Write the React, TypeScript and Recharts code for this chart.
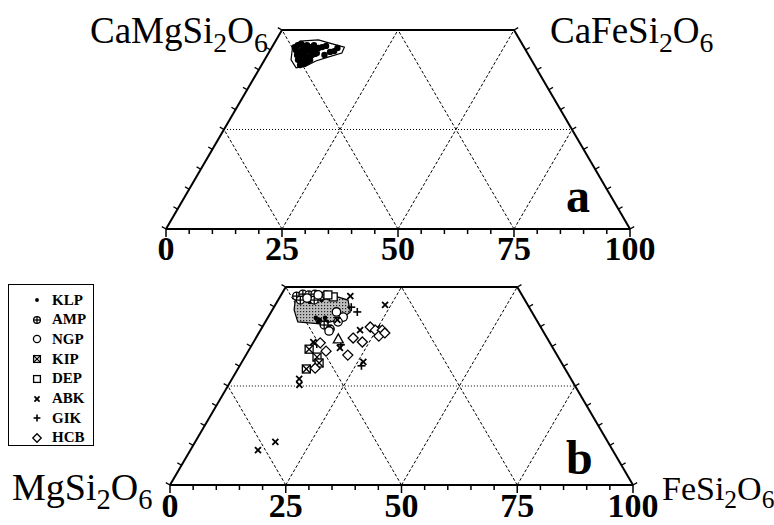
import React from 'react';
import { ScatterChart, Scatter, XAxis, YAxis, ReferenceLine, Legend } from 'recharts';

// compositions as [Wo, Fs] mol%, En is the rest
const fieldA = [[45.5, 4.5], [47.2, 5.3], [47.5, 9.1], [46.5, 12.6], [45.7, 15.6], [44.2, 15.8], [43.2, 13.3], [42.2, 11.2], [41.0, 9.7], [40.5, 7.8], [42.5, 5.7]];
const dotsA = [
  [45.7, 4.9], [46.2, 5.3], [46.5, 5.9], [46.0, 6.7], [46.2, 7.3], [45.7, 8.2], [45.0, 5.5], [44.5, 6.4], [45.0, 6.8],
  [44.7, 7.6], [45.0, 8.1], [44.5, 9.0], [45.0, 9.4], [43.7, 6.4], [43.2, 7.3], [43.7, 7.7], [43.5, 8.4], [43.2, 9.2],
  [43.7, 9.6], [44.0, 10.1], [42.5, 7.2], [42.0, 8.1], [42.5, 8.5], [42.0, 9.4], [42.5, 9.8], [41.2, 8.3], [41.5, 9.0],
  [45.5, 10.1], [44.2, 10.4], [45.7, 10.8], [46.0, 11.5], [44.5, 13.1], [44.7, 13.9], [45.5, 14.2], [43.7, 12.3], [46.2, 8.8],
];

const fieldB = [[46.7, 3.7], [47.7, 6.9], [47.7, 11.8], [46.7, 15.1], [43.7, 17.1], [41.7, 15.9], [40.7, 12.1], [41.2, 7.0], [44.2, 4.7]];
const KLP = [[48.0, 4.1], [47.5, 5.4], [47.7, 6.8], [47.2, 8.4], [46.7, 9.4], [46.2, 7.1], [42.2, 10.4], [41.7, 11.5], [42.2, 12.4], [40.4, 12.6], [41.2, 11.4], [41.2, 13.3]];
const AMP = [[47.7, 3.5], [48.2, 4.6], [48.0, 6.0], [48.2, 7.2], [47.7, 8.7], [48.0, 9.7], [46.7, 4.8], [46.7, 7.8], [40.4, 13.1], [39.4, 14.9]];
const NGP = [[47.2, 6.0], [48.0, 8.0], [42.4, 16.2], [41.2, 15.7], [38.9, 14.9], [43.7, 14.1]];
const KIP = [[34.3, 12.9], [32.3, 15.6], [30.8, 16.8], [29.3, 14.8]];
const DEP = [[47.5, 11.5], [48.0, 10.1]];
const ABK = [[47.7, 15.1], [45.5, 23.7], [41.7, 15.3], [39.1, 21.5], [39.6, 24.9], [36.1, 12.9], [34.6, 19.4], [31.1, 26.2], [26.8, 14.5], [25.3, 15.3], [8.8, 14.6], [10.9, 17.3]];
const GIK = [[44.9, 16.7], [43.7, 18.6], [35.4, 19.2], [35.6, 13.9], [30.1, 26.3]];
const HCB = [[35.9, 14.5], [33.8, 16.8], [32.8, 22.0], [37.1, 21.0], [36.1, 23.5], [39.9, 23.3], [39.1, 24.8], [39.1, 26.3], [37.6, 26.3], [38.4, 27.2], [29.5, 16.6]];
const TRI = [[36.9, 17.9]];

const groups = ['KLP', 'AMP', 'NGP', 'KIP', 'DEP', 'ABK', 'GIK', 'HCB'];
const groupData: Record<string, number[][]> = { KLP, AMP, NGP, KIP, DEP, ABK, GIK, HCB };

const bottomTicks = [0, 5, 10, 15, 20, 25, 30, 35, 40, 45, 50, 55, 60, 65, 70, 75, 80, 85, 90, 95, 100];
const gridLevels = [25, 50, 75];
const edgeTickWo = [0, 5, 10, 15, 20, 25, 30, 35, 40, 45, 50];

const FONT = '"Liberation Serif", "Times New Roman", serif';

const tern = (wo: number, fs: number) => ({ x: fs + wo / 2, y: wo });
const toPts = (arr: number[][]) => arr.map(([wo, fs]) => tern(wo, fs));

function Mark({ kind, cx, cy, k = 1 }: any) {
  const sw = 1.3;
  if (kind === 'KLP') return <circle cx={cx} cy={cy} r={2.3 * k} fill="#000" />;
  if (kind === 'AMP') {
    const r = 4 * k;
    return (
      <g stroke="#000" strokeWidth={sw}>
        <circle cx={cx} cy={cy} r={r} fill="#fff" />
        <line x1={cx - r} x2={cx + r} y1={cy} y2={cy} />
        <line x1={cx} x2={cx} y1={cy - r} y2={cy + r} />
      </g>
    );
  }
  if (kind === 'NGP') return <circle cx={cx} cy={cy} r={4.2 * k} fill="#fff" stroke="#000" strokeWidth={sw} />;
  if (kind === 'KIP' || kind === 'DEP') {
    const h = 4 * k;
    return (
      <g stroke="#000" strokeWidth={sw}>
        <rect x={cx - h} y={cy - h} width={2 * h} height={2 * h} fill="#fff" />
        {kind === 'KIP' && <line x1={cx - h} y1={cy - h} x2={cx + h} y2={cy + h} />}
        {kind === 'KIP' && <line x1={cx - h} y1={cy + h} x2={cx + h} y2={cy - h} />}
      </g>
    );
  }
  if (kind === 'ABK') {
    const h = 3 * k;
    return (
      <g stroke="#000" strokeWidth={1.8}>
        <line x1={cx - h} y1={cy - h} x2={cx + h} y2={cy + h} />
        <line x1={cx - h} y1={cy + h} x2={cx + h} y2={cy - h} />
      </g>
    );
  }
  if (kind === 'GIK') {
    const h = 4 * k;
    return (
      <g stroke="#000" strokeWidth={1.6}>
        <line x1={cx - h} y1={cy} x2={cx + h} y2={cy} />
        <line x1={cx} y1={cy - h} x2={cx} y2={cy + h} />
      </g>
    );
  }
  if (kind === 'HCB') {
    const h = 5 * k;
    return <path d={`M${cx},${cy - h}L${cx + h},${cy}L${cx},${cy + h}L${cx - h},${cy}Z`} fill="#fff" stroke="#000" strokeWidth={sw} />;
  }
  // triangle
  const h = 5 * k;
  return <path d={`M${cx},${cy - h}L${cx + h},${cy + h * 0.8}L${cx - h},${cy + h * 0.8}Z`} fill="#fff" stroke="#000" strokeWidth={sw} />;
}

const makeTick = (labelDy: number) => (props: any) => {
  const { x, y, payload } = props;
  const major = payload.value % 25 === 0;
  return (
    <g>
      <line x1={x} x2={x} y1={y} y2={y + (major ? 8 : 5)} stroke="#000" strokeWidth={1.5} />
      {major && (
        <text x={x} y={y + labelDy} textAnchor="middle" fontFamily={FONT} fontSize={34} fontWeight="bold" fill="#000">
          {payload.value}
        </text>
      )}
    </g>
  );
};

const polygonLine = (fill: string) => (p: any) => {
  const pts = p.points || [];
  const d = pts.map((q: any, i: number) => `${i ? 'L' : 'M'}${q.x},${q.y}`).join('') + 'Z';
  return (
    <g>
      <defs>
        <pattern id="stip" width="3" height="3" patternUnits="userSpaceOnUse">
          <rect width="3" height="3" fill="#bdbdbd" />
          <rect width="1.2" height="1.2" fill="#222" />
        </pattern>
      </defs>
      <path d={d} fill={fill} stroke="#000" strokeWidth={1.2} />
    </g>
  );
};

function Frame() {
  const lines: any[] = [];
  // outline
  lines.push(<ReferenceLine key="top" segment={[tern(50, 0), tern(50, 50)]} stroke="#000" strokeWidth={2} ifOverflow="visible" />);
  lines.push(<ReferenceLine key="left" segment={[tern(0, 0), tern(50, 0)]} stroke="#000" strokeWidth={2} ifOverflow="visible" />);
  lines.push(<ReferenceLine key="right" segment={[tern(0, 100), tern(50, 50)]} stroke="#000" strokeWidth={2} ifOverflow="visible" />);
  // grid
  gridLevels.forEach((L) => {
    const top = Math.min(50, 100 - L);
    lines.push(<ReferenceLine key={'fs' + L} segment={[tern(0, L), tern(top, L)]} stroke="#000" strokeWidth={1} strokeDasharray="3 2" ifOverflow="visible" />);
    lines.push(<ReferenceLine key={'en' + L} segment={[tern(0, 100 - L), tern(top, 100 - L - top)]} stroke="#000" strokeWidth={1} strokeDasharray="3 2" ifOverflow="visible" />);
  });
  lines.push(<ReferenceLine key="mid" segment={[tern(25, 0), tern(25, 75)]} stroke="#000" strokeWidth={1} strokeDasharray="1 2" ifOverflow="visible" />);
  // edge ticks
  edgeTickWo.forEach((w) => {
    const l = tern(w, 0);
    const r = tern(w, 100 - w);
    lines.push(<ReferenceLine key={'lt' + w} segment={[l, { x: l.x - 0.9, y: l.y + 0.6 }]} stroke="#000" strokeWidth={1.3} ifOverflow="visible" />);
    lines.push(<ReferenceLine key={'rt' + w} segment={[r, { x: r.x + 0.9, y: r.y + 0.6 }]} stroke="#000" strokeWidth={1.3} ifOverflow="visible" />);
  });
  return lines;
}

const Sub = ({ children }: any) => (
  <span style={{ fontSize: '0.75em', position: 'relative', top: '0.32em' }}>{children}</span>
);

const labelStyle = (left: number, baseline: number, size: number, bold = false): React.CSSProperties => ({
  position: 'absolute',
  left,
  top: baseline - 0.8375 * size,
  fontSize: size,
  lineHeight: 1,
  fontFamily: FONT,
  fontWeight: bold ? 'bold' : 'normal',
  whiteSpace: 'nowrap',
  color: '#000',
});

const LegendBox = (props: any) => {
  const items = (props.payload || [])
    .filter((p: any) => groups.includes(p.value))
    .sort((a: any, b: any) => groups.indexOf(a.value) - groups.indexOf(b.value));
  return (
    <div style={{ border: '1px solid #000', width: 84, height: 160, background: '#fff', position: 'relative' }}>
      {items.map((it: any, i: number) => (
        <div key={it.value} style={{ position: 'absolute', left: 0, top: 5 + i * 19.7, height: 20, display: 'flex', alignItems: 'center' }}>
          <svg width={38} height={20}>
            <Mark kind={it.value} cx={28} cy={10} k={0.85} />
          </svg>
          <span style={{ fontFamily: FONT, fontWeight: 'bold', fontSize: 15, marginLeft: 5 }}>{it.value}</span>
        </div>
      ))}
    </div>
  );
};

export default function App() {
  return (
    <div style={{ position: 'absolute', left: 0, top: 0, width: 774, height: 525, background: '#fff', overflow: 'hidden' }}>
      <div style={{ position: 'absolute', left: 0, top: 0 }}>
        <ScatterChart width={774} height={272} margin={{ top: 30, left: 166, right: 144, bottom: 0 }}>
          <XAxis type="number" dataKey="x" domain={[0, 100]} ticks={bottomTicks} interval={0} height={43}
            axisLine={{ stroke: '#000', strokeWidth: 2 }} tickLine={false} tickSize={0} tickMargin={0} tick={makeTick(31)} />
          <YAxis type="number" dataKey="y" domain={[0, 50]} hide />
          {Frame()}
          <Scatter data={toPts(fieldA)} shape={() => <g />} line={polygonLine('#fff')} isAnimationActive={false} />
          <Scatter data={toPts(dotsA)} shape={(p: any) => <circle cx={p.cx} cy={p.cy} r={3.2} fill="#000" />} isAnimationActive={false} />
        </ScatterChart>
      </div>
      <div style={{ position: 'absolute', left: 0, top: 260 }}>
        <ScatterChart width={774} height={265} margin={{ top: 27, left: 170, right: 141, bottom: 0 }}>
          <XAxis type="number" dataKey="x" domain={[0, 100]} ticks={bottomTicks} interval={0} height={40}
            axisLine={{ stroke: '#000', strokeWidth: 2 }} tickLine={false} tickSize={0} tickMargin={0} tick={makeTick(32)} />
          <YAxis type="number" dataKey="y" domain={[0, 50]} hide />
          {Frame()}
          <Scatter name="field" legendType="none" data={toPts(fieldB)} shape={() => <g />} line={polygonLine('url(#stip)')} isAnimationActive={false} />
          {groups.map((g) => (
            <Scatter key={g} name={g} data={toPts(groupData[g])} shape={(p: any) => <Mark kind={g} cx={p.cx} cy={p.cy} />} isAnimationActive={false} />
          ))}
          <Scatter name="TRI" legendType="none" data={toPts(TRI)} shape={(p: any) => <Mark kind="TRI" cx={p.cx} cy={p.cy} />} isAnimationActive={false} />
          <Legend layout="horizontal" verticalAlign="middle" align="center" content={LegendBox}
            wrapperStyle={{ left: 8, top: 24, width: 86, height: 162 }} />
        </ScatterChart>
      </div>

      <div style={labelStyle(90, 43, 37)}>CaMgSi<Sub>2</Sub>O<Sub>6</Sub></div>
      <div style={labelStyle(550, 43, 37)}>CaFeSi<Sub>2</Sub>O<Sub>6</Sub></div>
      <div style={labelStyle(12, 500, 38)}>MgSi<Sub>2</Sub>O<Sub>6</Sub></div>
      <div style={labelStyle(662, 500, 34)}>FeSi<Sub>2</Sub>O<Sub>6</Sub></div>
      <div style={labelStyle(566, 212, 48, true)}>a</div>
      <div style={labelStyle(566, 474, 48, true)}>b</div>
    </div>
  );
}
